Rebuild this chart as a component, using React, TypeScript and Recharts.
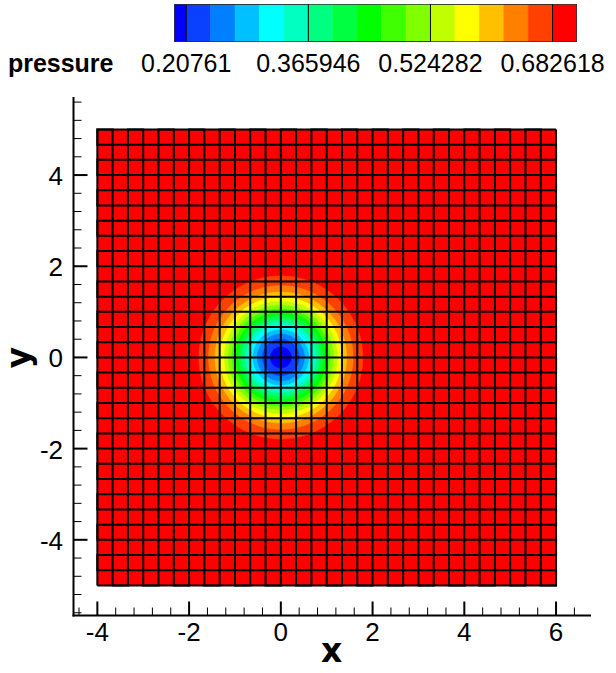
import React from "react";
import { ScatterChart, Scatter, XAxis, YAxis } from "recharts";

// contour levels of the pressure field (same as the legend)
const levels = [
  0.20761, 0.239277, 0.270944, 0.302611, 0.334279, 0.365946, 0.397613, 0.42928,
  0.460947, 0.492615, 0.524282, 0.555949, 0.587616, 0.619283, 0.650951, 0.682618,
];
const pressureMin = 0.191776;
const pressureMax = 0.714285;
const legendLabels = [0.20761, 0.365946, 0.524282, 0.682618];

// one colour per band: below levels[0], between levels, above levels[15]
const bandColors = [
  "#0000ff", "#0a40ff", "#0080ff", "#00c0ff", "#00ffff", "#00ffc0", "#00ff80", "#00ff40",
  "#00ff00", "#40ff00", "#80ff00", "#c0ff00", "#ffff00", "#ffc000", "#ff8000", "#ff4000",
  "#ff0000",
];

// radius of each contour line around the vortex core
const vortexCenter = { x: 0, y: 0 };
const contourRadii = [
  0.23, 0.4, 0.514, 0.608, 0.693, 0.771, 0.846, 0.919,
  0.993, 1.068, 1.147, 1.232, 1.326, 1.437, 1.577, 1.788,
];

// mesh nodes
const xNodes = [
  -4, -3.667, -3.333, -3, -2.667, -2.333, -2, -1.667, -1.333, -1, -0.667, -0.333, 0, 0.333, 0.667, 1,
  1.333, 1.667, 2, 2.333, 2.667, 3, 3.333, 3.667, 4, 4.333, 4.667, 5, 5.333, 5.667, 6,
];
const yNodes = [
  -5, -4.667, -4.333, -4, -3.667, -3.333, -3, -2.667, -2.333, -2, -1.667, -1.333, -1, -0.667, -0.333, 0,
  0.333, 0.667, 1, 1.333, 1.667, 2, 2.333, 2.667, 3, 3.333, 3.667, 4, 4.333, 4.667, 5,
];

// axis ticks (major ones get labels)
const xTicks = [
  -4.4, -4, -3.6, -3.2, -2.8, -2.4, -2, -1.6, -1.2, -0.8, -0.4, 0, 0.4, 0.8, 1.2, 1.6, 2, 2.4,
  2.8, 3.2, 3.6, 4, 4.4, 4.8, 5.2, 5.6, 6, 6.4,
];
const xMajor = [-4, -2, 0, 2, 4, 6];
const yTicks = [
  -5.6, -5.2, -4.8, -4.4, -4, -3.6, -3.2, -2.8, -2.4, -2, -1.6, -1.2, -0.8, -0.4, 0, 0.4, 0.8,
  1.2, 1.6, 2, 2.4, 2.8, 3.2, 3.6, 4, 4.4, 4.8, 5.2, 5.6,
];
const yMajor = [-4, -2, 0, 2, 4];

const isMajor = (list: number[], v: number) => list.some((m) => Math.abs(m - v) < 1e-6);

function discPoints(r: number) {
  const pts: { x: number; y: number }[] = [];
  for (let i = 0; i <= 96; i++) {
    const a = (i / 96) * 2 * Math.PI;
    pts.push({ x: vortexCenter.x + r * Math.cos(a), y: vortexCenter.y + r * Math.sin(a) });
  }
  return pts;
}

const rect = (xa: number, xb: number, ya: number, yb: number) => [
  { x: xa, y: ya },
  { x: xb, y: ya },
  { x: xb, y: yb },
  { x: xa, y: yb },
  { x: xa, y: ya },
];

const x0 = xNodes[0];
const x1 = xNodes[xNodes.length - 1];
const y0 = yNodes[0];
const y1 = yNodes[yNodes.length - 1];

const domainBox = rect(x0, x1, y0, y1);

// mesh drawn as two zigzag polylines (the joins run along the border)
const verticalMesh = xNodes.flatMap((x, i) =>
  i % 2 === 0 ? [{ x, y: y0 }, { x, y: y1 }] : [{ x, y: y1 }, { x, y: y0 }]
);
const horizontalMesh = yNodes.flatMap((y, i) =>
  i % 2 === 0 ? [{ x: x0, y }, { x: x1, y }] : [{ x: x1, y }, { x: x0, y }]
);

// legend bands and separators
const bandEdges = [pressureMin, ...levels, pressureMax];
const legendSeparators = legendLabels.flatMap((v, i) =>
  i % 2 === 0 ? [{ x: v, y: 0 }, { x: v, y: 1 }] : [{ x: v, y: 1 }, { x: v, y: 0 }]
);

const noDot = () => <g />;

const XTick = (props: any) => {
  const { x, y, payload } = props;
  const v = payload.value;
  const major = isMajor(xMajor, v);
  return (
    <g>
      <line x1={x} y1={y} x2={x} y2={y - (major ? 14 : 8)} stroke="#000" strokeWidth={major ? 2 : 1} />
      {major && (
        <text x={x} y={y + 25} textAnchor="middle" fontSize={26} fill="#000">
          {String(Math.round(v))}
        </text>
      )}
    </g>
  );
};

const YTick = (props: any) => {
  const { x, y, payload } = props;
  const v = payload.value;
  const major = isMajor(yMajor, v);
  return (
    <g>
      <line x1={x} y1={y} x2={x + (major ? 14 : 8)} y2={y} stroke="#000" strokeWidth={major ? 2 : 1} />
      {major && (
        <text x={x - 10.5} y={y + 10} textAnchor="end" fontSize={26} fill="#000">
          {String(Math.round(v))}
        </text>
      )}
    </g>
  );
};

const XTitle = (props: any) => {
  const vb = props.viewBox;
  return (
    <text
      x={vb.x + vb.width / 2}
      y={vb.y + 46.5}
      textAnchor="middle"
      fontSize={33}
      fontWeight="bold"
      fontFamily='"DejaVu Sans", sans-serif'
      fill="#000"
    >
      x
    </text>
  );
};

const YTitle = (props: any) => {
  const vb = props.viewBox;
  const cx = vb.x + 16;
  const cy = vb.y + vb.height / 2 + 1;
  return (
    <text
      x={cx}
      y={cy}
      transform={`rotate(-90, ${cx}, ${cy})`}
      textAnchor="middle"
      fontSize={33}
      fontWeight="bold"
      fontFamily='"DejaVu Sans", sans-serif'
      fill="#000"
    >
      y
    </text>
  );
};

const PressureTitle = (props: any) => {
  const vb = props.viewBox;
  return (
    <text x={vb.x - 60.5} y={vb.y + 30} textAnchor="end" fontSize={25} fontWeight="bold" fill="#000">
      pressure
    </text>
  );
};

export default function App() {
  return (
    <div
      style={{
        position: "absolute",
        left: 0,
        top: 0,
        width: 616,
        height: 673,
        background: "#fff",
        fontFamily: '"Liberation Sans", Arial, sans-serif',
      }}
    >
      {/* colour legend */}
      <div style={{ position: "absolute", left: 0, top: 0 }}>
        <ScatterChart width={616} height={80} margin={{ top: 4, right: 39, bottom: 0, left: 174 }}>
          <XAxis
            type="number"
            dataKey="x"
            domain={[pressureMin, pressureMax]}
            allowDataOverflow
            ticks={legendLabels}
            interval={0}
            tickLine={false}
            axisLine={false}
            tickSize={0}
            tickMargin={12}
            height={38}
            tick={{ fill: "#000", fontSize: 25 }}
            tickFormatter={(v) => String(v)}
            label={{ content: PressureTitle }}
          />
          <YAxis type="number" dataKey="y" domain={[0, 1]} allowDataOverflow hide />
          {bandColors.map((c, i) => (
            <Scatter
              key={"band" + i}
              data={rect(bandEdges[i], bandEdges[i + 1], 0, 1)}
              shape={noDot}
              line={{ fill: c, stroke: c, strokeWidth: 0.5 }}
              isAnimationActive={false}
            />
          ))}
          <Scatter
            data={legendSeparators}
            shape={noDot}
            line={{ fill: "none", stroke: "#000", strokeWidth: 1 }}
            isAnimationActive={false}
          />
          <Scatter
            data={rect(pressureMin, pressureMax, 0, 1)}
            shape={noDot}
            line={{ fill: "none", stroke: "#333", strokeWidth: 1.5 }}
            isAnimationActive={false}
          />
        </ScatterChart>
      </div>

      {/* contour plot */}
      <div style={{ position: "absolute", left: 0, top: 0 }}>
        <ScatterChart width={616} height={673} margin={{ top: 98, right: 26, bottom: 0, left: 13.5 }}>
          <XAxis
            type="number"
            dataKey="x"
            domain={[-4.52, 6.74]}
            allowDataOverflow
            ticks={xTicks}
            interval={0}
            tick={XTick}
            tickLine={false}
            tickSize={0}
            tickMargin={0}
            height={57.5}
            axisLine={{ stroke: "#000", strokeWidth: 2, strokeLinecap: "square" }}
            label={{ content: XTitle }}
          />
          <YAxis
            type="number"
            dataKey="y"
            domain={[-5.66, 5.69]}
            allowDataOverflow
            ticks={yTicks}
            interval={0}
            tick={YTick}
            tickLine={false}
            tickSize={0}
            tickMargin={0}
            width={60}
            axisLine={{ stroke: "#000", strokeWidth: 2, strokeLinecap: "square" }}
            label={{ content: YTitle }}
          />
          <Scatter
            data={domainBox}
            shape={noDot}
            line={{ fill: bandColors[16], stroke: bandColors[16], strokeWidth: 0.5 }}
            isAnimationActive={false}
          />
          {contourRadii
            .map((r, k) => ({ r, k }))
            .reverse()
            .map(({ r, k }) => (
              <Scatter
                key={"disc" + k}
                data={discPoints(r)}
                shape={noDot}
                line={{ fill: bandColors[k], stroke: bandColors[k], strokeWidth: 0.5 }}
                isAnimationActive={false}
              />
            ))}
          <Scatter
            data={verticalMesh}
            shape={noDot}
            line={{ fill: "none", stroke: "#000", strokeWidth: 2 }}
            isAnimationActive={false}
          />
          <Scatter
            data={horizontalMesh}
            shape={noDot}
            line={{ fill: "none", stroke: "#000", strokeWidth: 2 }}
            isAnimationActive={false}
          />
        </ScatterChart>
      </div>
    </div>
  );
}
